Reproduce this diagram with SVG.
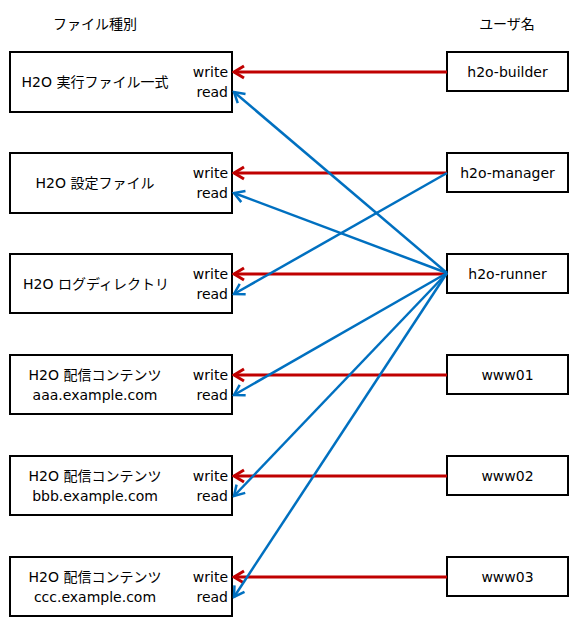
<svg xmlns="http://www.w3.org/2000/svg" width="580" height="630" viewBox="0 0 580 630">
<style>
text{font-family:"DejaVu Sans","Noto Sans CJK JP",sans-serif;font-size:14px;fill:#000}
.box{fill:#fff;stroke:#000;stroke-width:2}
.c{text-anchor:middle;dominant-baseline:central}
.r{text-anchor:end;dominant-baseline:central}
.w{stroke:#c00000;stroke-width:3;fill:none;marker-end:url(#mr)}
.b{stroke:#0070c0;stroke-width:2.5;fill:none;marker-end:url(#mb)}
</style>
<defs>
<marker id="mr" markerUnits="userSpaceOnUse" viewBox="-13 -8 15 16" markerWidth="15" markerHeight="16" refX="0" refY="0" orient="auto">
<path d="M-10,-6 L0,0 L-10,6" fill="none" stroke="#c00000" stroke-width="3"/>
</marker>
<marker id="mb" markerUnits="userSpaceOnUse" viewBox="-13 -8 15 16" markerWidth="15" markerHeight="16" refX="0" refY="0" orient="auto">
<path d="M-10,-6 L0,0 L-10,6" fill="none" stroke="#0070c0" stroke-width="2.5"/>
</marker>
</defs>
<text class="c" x="95" y="24">ファイル種別</text>
<text class="c" x="507" y="24">ユーザ名</text>
<g id="f1"><rect class="box" x="10" y="52" width="222" height="60"/><text class="c" x="95" y="82">H2O 実行ファイル一式</text><text class="r" x="228" y="72">write</text><text class="r" x="228" y="92">read</text></g>
<g id="f2"><rect class="box" x="10" y="153" width="222" height="60"/><text class="c" x="95" y="183">H2O 設定ファイル</text><text class="r" x="228" y="173">write</text><text class="r" x="228" y="193">read</text></g>
<g id="f3"><rect class="box" x="10" y="254" width="222" height="59"/><text class="c" x="96" y="284">H2O ログディレクトリ</text><text class="r" x="228" y="274">write</text><text class="r" x="228" y="294">read</text></g>
<g id="f4"><rect class="box" x="10" y="355" width="222" height="59"/><text class="c" x="95" y="375">H2O 配信コンテンツ</text><text class="c" x="95" y="395">aaa.example.com</text><text class="r" x="228" y="375">write</text><text class="r" x="228" y="395">read</text></g>
<g id="f5"><rect class="box" x="10" y="456" width="222" height="59"/><text class="c" x="95" y="476">H2O 配信コンテンツ</text><text class="c" x="95" y="496">bbb.example.com</text><text class="r" x="228" y="476">write</text><text class="r" x="228" y="496">read</text></g>
<g id="f6"><rect class="box" x="10" y="557" width="222" height="59"/><text class="c" x="95" y="577">H2O 配信コンテンツ</text><text class="c" x="95" y="597">ccc.example.com</text><text class="r" x="228" y="577">write</text><text class="r" x="228" y="597">read</text></g>
<g id="u1"><rect class="box" x="447" y="52" width="121" height="39"/><text class="c" x="507.5" y="72">h2o-builder</text></g>
<g id="u2"><rect class="box" x="447" y="153" width="121" height="39"/><text class="c" x="507.5" y="173">h2o-manager</text></g>
<g id="u3"><rect class="box" x="447" y="254" width="121" height="39"/><text class="c" x="507.5" y="274">h2o-runner</text></g>
<g id="u4"><rect class="box" x="447" y="355" width="121" height="39"/><text class="c" x="507.5" y="375">www01</text></g>
<g id="u5"><rect class="box" x="447" y="456" width="121" height="39"/><text class="c" x="507.5" y="476">www02</text></g>
<g id="u6"><rect class="box" x="447" y="557" width="121" height="39"/><text class="c" x="507.5" y="577">www03</text></g>
<g id="connectors">
<line class="w" x1="447" y1="72" x2="234" y2="72"/>
<line class="w" x1="447" y1="173" x2="234" y2="173"/>
<line class="w" x1="447" y1="274" x2="234" y2="274"/>
<line class="w" x1="447" y1="375" x2="234" y2="375"/>
<line class="w" x1="447" y1="476" x2="234" y2="476"/>
<line class="w" x1="447" y1="577" x2="234" y2="577"/>
<line class="b" x1="447" y1="173" x2="234" y2="294"/>
<line class="b" x1="447" y1="273" x2="234" y2="92"/>
<line class="b" x1="447" y1="273" x2="234" y2="193"/>
<line class="b" x1="447" y1="273" x2="234" y2="395"/>
<line class="b" x1="447" y1="273" x2="234" y2="496"/>
<line class="b" x1="447" y1="273" x2="234" y2="597"/>
</g>
</svg>
